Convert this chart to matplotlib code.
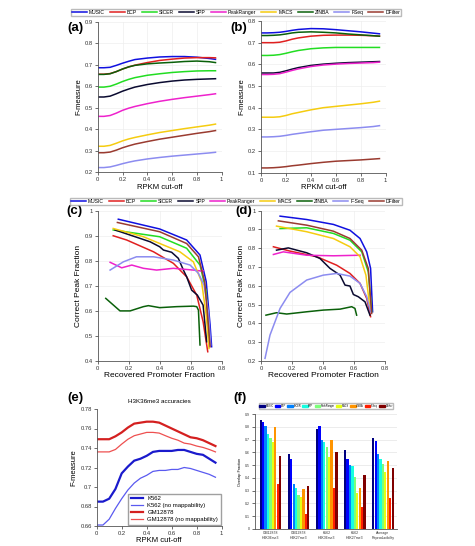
"""Six-panel peak-caller benchmark figure (F-measure, promoter recovery, H3K36me3, reproducibility)."""

import matplotlib
matplotlib.use("Agg")
import matplotlib.pyplot as plt
import numpy as np
from matplotlib.lines import Line2D
from matplotlib.patches import Patch
from matplotlib.ticker import FormatStrFormatter

W, H = 475, 546

methods = ["MUSIC", "BCP", "SICER", "SPP", "PeakRanger", "MACS", "ZINBA", "FSeq", "DFilter"]
methods_cd = ["MUSIC", "BCP", "SICER", "SPP", "PeakRanger", "MACS", "ZINBA", "F-Seq", "DFilter"]
colors = ["#1010e0", "#e02020", "#22dd22", "#0a0a30", "#ee22cc", "#f5cc10", "#0a600a", "#8c8cf0", "#9a3b30"]

# panels (a) and (b): F-measure vs RPKM cut-off
rpkm = [0, 0.05, 0.1, 0.15, 0.2, 0.25, 0.3, 0.4, 0.5, 0.6, 0.7, 0.8, 0.9, 0.95]
fm_a = {
    "MUSIC": [0.686, 0.686, 0.688, 0.697, 0.707, 0.716, 0.724, 0.731, 0.736, 0.738, 0.738, 0.735, 0.729, 0.725],
    "BCP": [0.656, 0.656, 0.659, 0.668, 0.680, 0.690, 0.698, 0.710, 0.720, 0.726, 0.731, 0.733, 0.733, 0.732],
    "SICER": [0.596, 0.596, 0.600, 0.610, 0.622, 0.632, 0.640, 0.651, 0.658, 0.664, 0.668, 0.671, 0.672, 0.672],
    "SPP": [0.550, 0.550, 0.554, 0.565, 0.577, 0.587, 0.596, 0.608, 0.617, 0.624, 0.629, 0.632, 0.634, 0.635],
    "PeakRanger": [0.460, 0.460, 0.464, 0.475, 0.488, 0.498, 0.506, 0.519, 0.530, 0.539, 0.547, 0.554, 0.561, 0.565],
    "MACS": [0.321, 0.321, 0.325, 0.335, 0.346, 0.355, 0.362, 0.374, 0.385, 0.394, 0.403, 0.411, 0.419, 0.424],
    "ZINBA": [0.655, 0.655, 0.658, 0.668, 0.680, 0.690, 0.697, 0.704, 0.708, 0.711, 0.715, 0.717, 0.714, 0.710],
    "FSeq": [0.222, 0.222, 0.225, 0.232, 0.240, 0.247, 0.253, 0.262, 0.269, 0.275, 0.280, 0.285, 0.290, 0.293],
    "DFilter": [0.291, 0.291, 0.294, 0.303, 0.314, 0.323, 0.331, 0.343, 0.354, 0.363, 0.372, 0.381, 0.389, 0.394],
}
fm_b = {
    "MUSIC": [0.745, 0.745, 0.746, 0.748, 0.752, 0.757, 0.761, 0.765, 0.764, 0.760, 0.755, 0.750, 0.744, 0.741],
    "BCP": [0.700, 0.700, 0.700, 0.702, 0.708, 0.716, 0.722, 0.730, 0.734, 0.735, 0.735, 0.734, 0.732, 0.730],
    "SICER": [0.641, 0.641, 0.642, 0.645, 0.651, 0.658, 0.664, 0.672, 0.676, 0.678, 0.678, 0.678, 0.678, 0.678],
    "SPP": [0.560, 0.560, 0.560, 0.563, 0.570, 0.578, 0.585, 0.595, 0.601, 0.605, 0.608, 0.610, 0.612, 0.613],
    "PeakRanger": [0.553, 0.553, 0.554, 0.557, 0.564, 0.572, 0.579, 0.590, 0.597, 0.601, 0.604, 0.606, 0.608, 0.610],
    "MACS": [0.356, 0.356, 0.356, 0.358, 0.364, 0.372, 0.378, 0.390, 0.400, 0.406, 0.412, 0.418, 0.425, 0.430],
    "ZINBA": [0.733, 0.733, 0.734, 0.736, 0.740, 0.745, 0.748, 0.750, 0.748, 0.745, 0.740, 0.736, 0.732, 0.730],
    "FSeq": [0.265, 0.265, 0.266, 0.268, 0.272, 0.277, 0.281, 0.289, 0.296, 0.300, 0.304, 0.308, 0.313, 0.317],
    "DFilter": [0.122, 0.122, 0.123, 0.125, 0.128, 0.132, 0.135, 0.142, 0.148, 0.153, 0.156, 0.159, 0.163, 0.165],
}

# panels (c) and (d): correct peak fraction vs recovered promoter fraction (x list, y list)
curves_c = {
    "MUSIC": ([0.133, 0.40, 0.574, 0.66, 0.70, 0.725, 0.735], [0.966, 0.927, 0.883, 0.823, 0.717, 0.544, 0.457]),
    "BCP": ([0.10, 0.187, 0.36, 0.488, 0.574, 0.639, 0.68, 0.71], [0.90, 0.883, 0.836, 0.79, 0.736, 0.663, 0.557, 0.437]),
    "SICER": ([0.10, 0.40, 0.574, 0.66, 0.70, 0.718], [0.923, 0.896, 0.85, 0.783, 0.677, 0.477]),
    "SPP": ([0.112, 0.338, 0.40, 0.424, 0.477, 0.52, 0.553, 0.574, 0.606, 0.643, 0.68, 0.703],
            [0.923, 0.876, 0.856, 0.843, 0.834, 0.81, 0.763, 0.736, 0.683, 0.663, 0.623, 0.477]),
    "PeakRanger": ([0.08, 0.155, 0.22, 0.295, 0.38, 0.488, 0.617, 0.67, 0.68],
                   [0.794, 0.772, 0.783, 0.77, 0.763, 0.77, 0.763, 0.759, 0.76]),
    "MACS": ([0.10, 0.295, 0.53, 0.617, 0.67, 0.70, 0.718], [0.929, 0.896, 0.836, 0.796, 0.717, 0.583, 0.45]),
    "ZINBA": ([0.052, 0.144, 0.209, 0.295, 0.327, 0.40, 0.51, 0.617, 0.639, 0.65, 0.66],
              [0.65, 0.60, 0.60, 0.617, 0.621, 0.613, 0.617, 0.619, 0.617, 0.603, 0.464]),
    "F-Seq": ([0.08, 0.166, 0.25, 0.36, 0.488, 0.596, 0.65, 0.686, 0.714, 0.729],
              [0.763, 0.796, 0.816, 0.816, 0.803, 0.783, 0.75, 0.703, 0.597, 0.464]),
    "DFilter": ([0.127, 0.40, 0.574, 0.65, 0.69, 0.714, 0.725], [0.953, 0.916, 0.869, 0.816, 0.717, 0.544, 0.457]),
}
curves_d = {
    "MUSIC": ([0.123, 0.295, 0.467, 0.574, 0.639, 0.682, 0.707, 0.72], [0.971, 0.953, 0.927, 0.896, 0.852, 0.781, 0.693, 0.462]),
    "BCP": ([0.08, 0.187, 0.36, 0.488, 0.574, 0.639, 0.682, 0.707], [0.808, 0.785, 0.755, 0.71, 0.666, 0.613, 0.533, 0.436]),
    "SICER": ([0.123, 0.295, 0.467, 0.574, 0.65, 0.692, 0.714], [0.905, 0.909, 0.879, 0.843, 0.781, 0.675, 0.462]),
    "SPP": ([0.10, 0.176, 0.295, 0.38, 0.445, 0.51, 0.542, 0.574, 0.596, 0.628, 0.671, 0.703],
            [0.79, 0.802, 0.776, 0.746, 0.693, 0.657, 0.604, 0.599, 0.554, 0.542, 0.515, 0.444]),
    "PeakRanger": ([0.08, 0.144, 0.295, 0.467, 0.639], [0.767, 0.781, 0.763, 0.76, 0.763]),
    "MACS": ([0.10, 0.295, 0.467, 0.574, 0.639, 0.677, 0.703], [0.918, 0.888, 0.852, 0.808, 0.755, 0.657, 0.48]),
    "ZINBA": ([0.032, 0.10, 0.166, 0.295, 0.402, 0.51, 0.585, 0.606, 0.617],
              [0.444, 0.457, 0.45, 0.462, 0.471, 0.476, 0.489, 0.48, 0.444]),
    "F-Seq": ([0.026, 0.058, 0.123, 0.187, 0.295, 0.402, 0.488, 0.574, 0.639, 0.682, 0.707],
              [0.214, 0.338, 0.48, 0.565, 0.631, 0.657, 0.666, 0.652, 0.613, 0.542, 0.462]),
    "DFilter": ([0.112, 0.295, 0.467, 0.574, 0.65, 0.692, 0.714], [0.946, 0.923, 0.891, 0.852, 0.79, 0.693, 0.453]),
}

# panel (e): H3K36me3 accuracies
rpkm_e = [0, 0.05, 0.1, 0.15, 0.2, 0.25, 0.3, 0.35, 0.4, 0.45, 0.5, 0.55, 0.6, 0.65, 0.7, 0.75, 0.8, 0.85, 0.9, 0.95]
k562 = [0.685, 0.685, 0.688, 0.698, 0.714, 0.721, 0.727, 0.729, 0.732, 0.736, 0.737, 0.737, 0.737, 0.738, 0.738,
        0.736, 0.734, 0.733, 0.729, 0.725]
k562_nomap = [0.661, 0.661, 0.667, 0.678, 0.688, 0.697, 0.704, 0.709, 0.712, 0.716, 0.717, 0.717, 0.718, 0.718,
              0.720, 0.719, 0.717, 0.715, 0.713, 0.710]
gm12878 = [0.749, 0.749, 0.749, 0.752, 0.756, 0.761, 0.765, 0.766, 0.767, 0.767, 0.766, 0.763, 0.760, 0.757,
           0.754, 0.751, 0.750, 0.748, 0.745, 0.742]
gm12878_nomap = [0.736, 0.736, 0.736, 0.7385, 0.744, 0.749, 0.7526, 0.7543, 0.756, 0.756, 0.7553, 0.7526, 0.750,
                 0.748, 0.745, 0.744, 0.742, 0.7406, 0.7385, 0.736]

# panel (f): reproducibility (rows = groups, columns = methods)
groups_f = ["GM12878\nH3K36me3", "GM12878\nH3K27me3", "K562\nH3K36me3", "K562\nH3K27me3", "Average\nReproducibility"]
overlap_f = [
    [0.85, 0.84, 0.81, 0.74, 0.71, 0.68, 0.80, 0.35, 0.57],
    [0.59, 0.55, 0.35, 0.32, 0.27, 0.25, 0.31, 0.12, 0.34],
    [0.78, 0.81, 0.70, 0.68, 0.64, 0.56, 0.70, 0.32, 0.60],
    [0.62, 0.55, 0.50, 0.49, 0.41, 0.28, 0.32, 0.17, 0.42],
    [0.71, 0.69, 0.59, 0.55, 0.51, 0.45, 0.53, 0.24, 0.48],
]

plt.rcParams["font.family"] = ["Liberation Sans", "DejaVu Sans"]
fig = plt.figure(figsize=(W / 100, H / 100), dpi=100)


def ax_px(l, t, r, b):
    return fig.add_axes([l / W, 1 - b / H, (r - l) / W, (b - t) / H])


def style(ax, tick_fs=4.2, fmt_x=True):
    for s in ("top", "right"):
        ax.spines[s].set_visible(False)
    for s in ("left", "bottom"):
        ax.spines[s].set_linewidth(0.6)
        ax.spines[s].set_color("#555555")
    ax.tick_params(labelsize=tick_fs, length=2, width=0.5, pad=1.5, colors="#333333")
    ax.grid(True, color="#eeeeee", lw=0.5)
    ax.set_axisbelow(True)
    if fmt_x:
        ax.xaxis.set_major_formatter(FormatStrFormatter("%g"))
    ax.yaxis.set_major_formatter(FormatStrFormatter("%g"))


def letter(x, y, s):
    fig.text(x / W, 1 - y / H, s, fontsize=9.5, fontweight="bold", ha="center", va="center")


def method_legend(labels, yc):
    handles = [Line2D([], [], color=c, lw=1.1) for c in colors]
    fig.legend(handles, labels, loc="center", bbox_to_anchor=(236 / W, 1 - yc / H), ncol=9, fontsize=3.6,
               frameon=True, fancybox=False, edgecolor="#aaaaaa", handlelength=3.0, handletextpad=0.4,
               columnspacing=1.0, borderpad=0.2)


# (a), (b)
for box, data, ylim, yt, lab in [((97.7, 21.7, 221.7, 172.3), fm_a, (0.2, 0.9), np.arange(0.2, 0.91, 0.1), (75, 28, "(a)")),
                                 ((261, 21, 385.7, 172.7), fm_b, (0.1, 0.8), np.arange(0.1, 0.81, 0.1), (239, 28, "(b)"))]:
    ax = ax_px(*box)
    for m, c in zip(methods, colors):
        ax.plot(rpkm, data[m], color=c, lw=1.1)
    ax.set_xlim(0, 1)
    ax.set_ylim(*ylim)
    ax.set_xticks(np.arange(0, 1.01, 0.2))
    ax.set_yticks(yt)
    style(ax)
    ax.set_xlabel("RPKM cut-off", fontsize=5.5, labelpad=1)
    ax.set_ylabel("F-measure", fontsize=5.5, labelpad=2)
    letter(*lab)

method_legend(methods, 12.5)

# (c), (d)
for box, data, ylim, yt, lab in [((97.7, 210.7, 221.7, 361), curves_c, (0.4, 1.0), np.arange(0.4, 1.01, 0.1), (74, 211, "(c)")),
                                 ((261, 210.7, 385, 361), curves_d, (0.2, 1.0), np.arange(0.2, 1.01, 0.1), (244, 211, "(d)"))]:
    ax = ax_px(*box)
    for m, c in zip(methods_cd, colors):
        xs, ys = data[m]
        ax.plot(xs, ys, color=c, lw=1.1)
    ax.set_xlim(0, 0.8)
    ax.set_ylim(*ylim)
    ax.set_xticks(np.arange(0, 0.81, 0.2))
    ax.set_yticks(yt)
    style(ax)
    ax.set_xlabel("Recovered Promoter Fraction", fontsize=6, labelpad=1)
    ax.set_ylabel("Correct Peak Fraction", fontsize=6, labelpad=2)
    letter(*lab)

method_legend(methods_cd, 201.5)

# (e)
ax = ax_px(96.7, 409, 221.7, 526)
ax.plot(rpkm_e, k562, color="#1a1acc", lw=1.6, label="K562")
ax.plot(rpkm_e, k562_nomap, color="#5a5af0", lw=0.9, label="K562 (no mappability)")
ax.plot(rpkm_e, gm12878, color="#d42020", lw=1.6, label="GM12878")
ax.plot(rpkm_e, gm12878_nomap, color="#ee5050", lw=0.9, label="GM12878 (no mappability)")
ax.set_xlim(0, 1)
ax.set_ylim(0.66, 0.78)
ax.set_xticks(np.arange(0, 1.01, 0.2))
ax.set_yticks(np.arange(0.66, 0.781, 0.02))
style(ax)
ax.grid(False)
ax.set_xlabel("RPKM cut-off", fontsize=5.5, labelpad=1)
ax.set_ylabel("F-measure", fontsize=5.5, labelpad=2)
ax.set_title("H3K36me3 accuracies", fontsize=4.5, pad=4)
ax.legend(loc="lower right", fontsize=4.3, frameon=True, fancybox=False, edgecolor="#888888",
          handlelength=2.0, borderpad=0.4, labelspacing=0.3, borderaxespad=0.2)
letter(75, 398, "(e)")

# (f)
ax = ax_px(255, 414, 397, 529)
jet = plt.cm.jet(np.linspace(0, 1, len(methods_cd)))
n = len(methods_cd)
bw = 0.78 / n
xg = np.arange(len(groups_f))
vals = np.array(overlap_f)
for j in range(n):
    ax.bar(xg - 0.39 + bw * (j + 0.5), vals[:, j], width=bw * 0.92, color=jet[j], label=methods_cd[j])
ax.set_xlim(-0.55, len(groups_f) - 0.5)
ax.set_ylim(0, 0.9)
ax.set_yticks(np.arange(0, 0.91, 0.1))
style(ax, tick_fs=2.5, fmt_x=False)
ax.set_xticks(xg)
ax.set_xticklabels(groups_f)
ax.grid(True, axis="y", color="#e4e4e4", lw=0.5)
ax.grid(False, axis="x")
ax.tick_params(axis="x", length=0)
ax.set_ylabel("Overlap Fraction", fontsize=2.8, labelpad=2)
ax.legend([Patch(color=c) for c in jet], methods_cd, loc="center", bbox_to_anchor=(0.5, 1.07), ncol=9,
          fontsize=1.8, frameon=True, fancybox=False, edgecolor="#aaaaaa", handlelength=2.2, handleheight=1.2,
          handletextpad=0.3, columnspacing=0.4, borderpad=0.3)
letter(240, 398, "(f)")

fig.savefig("out.png", dpi=100)
